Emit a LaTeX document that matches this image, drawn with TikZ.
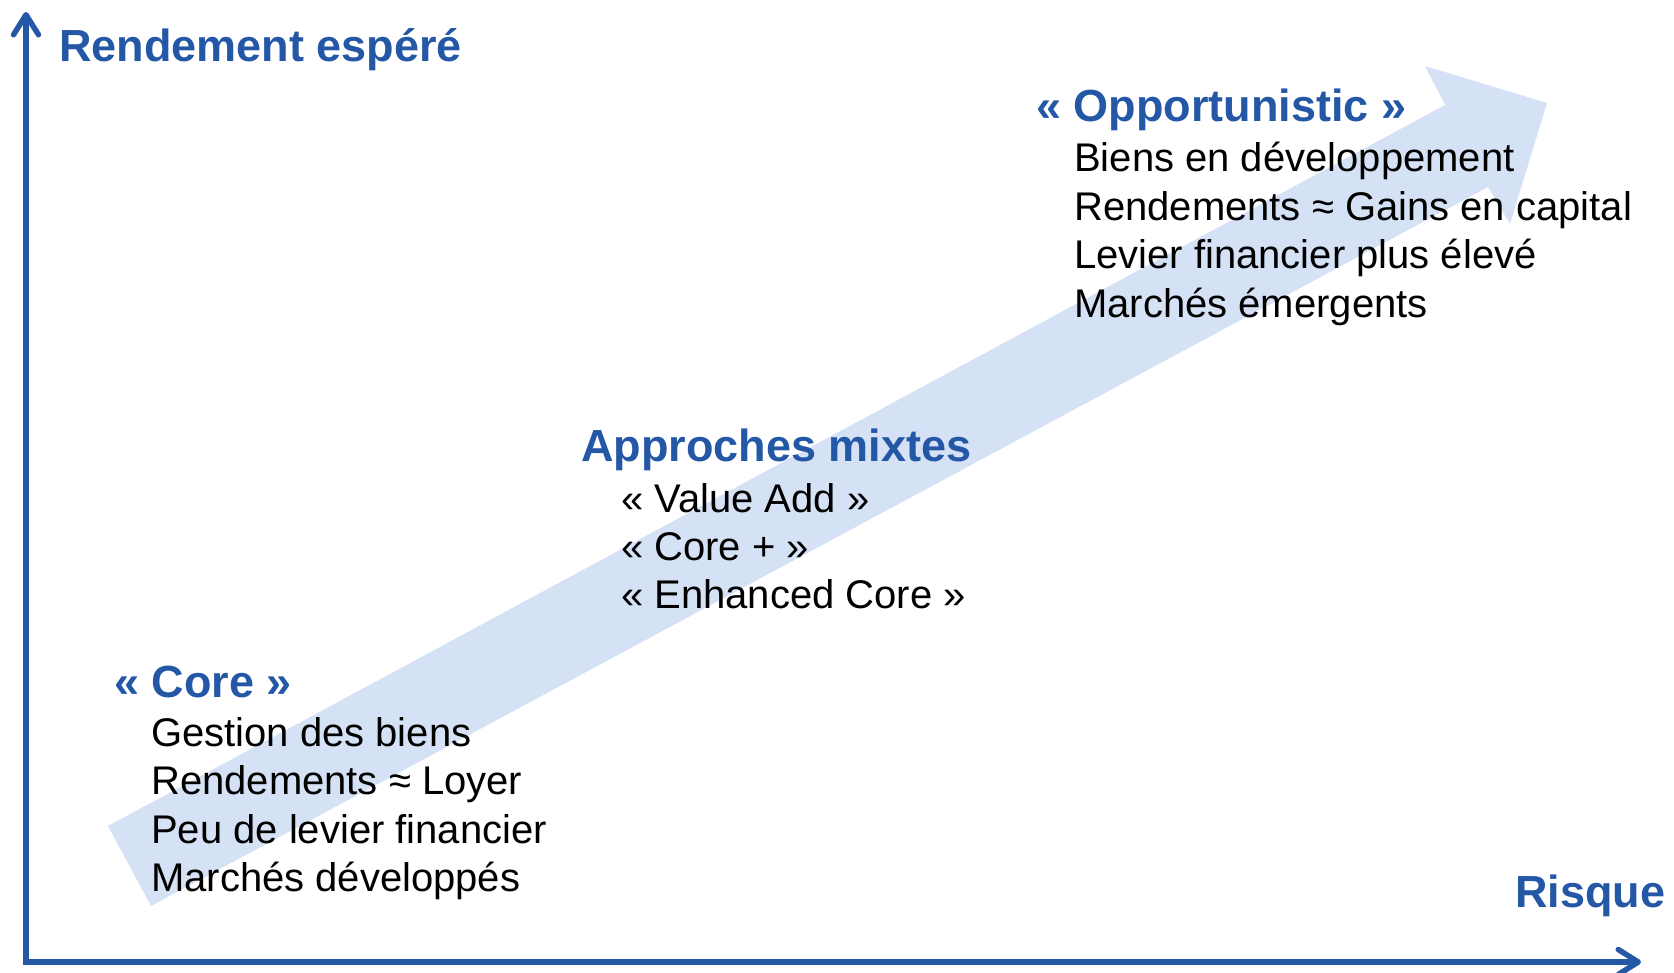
\documentclass[tikz,border=0pt]{standalone}
\usepackage{fontspec}
\setmainfont{Liberation Sans}
\usetikzlibrary{arrows.meta}
\definecolor{axisblue}{RGB}{36,88,166}
\definecolor{flowblue}{RGB}{213,225,244}
\tikzset{
  axis/.style={draw=axisblue, line width=5.5pt,
    {Straight Barb[length=20pt,width=25pt,round]}-{Straight Barb[length=20pt,width=25pt,round]}},
  flow/.style={fill=flowblue},
  heading/.style={anchor=base west, inner sep=0pt, text=axisblue,
    font=\bfseries\fontsize{45}{54}\selectfont},
  item/.style={anchor=base west, inner sep=0pt, text=black,
    font=\fontsize{40}{48}\selectfont}
}
\begin{document}
\begin{tikzpicture}[x=1pt,y=-1pt]
  \useasboundingbox (0,0) rectangle (1674,973);

  % broad rising arrow behind the labels
  \fill[flow] (108,826) -- (1445,105) -- (1425,66) -- (1547,103)
    -- (1510,224) -- (1488,187) -- (151,906) -- cycle;

  % axes
  \coordinate (origin) at (26,962);
  \coordinate (ytip) at (26,12);
  \coordinate (xtip) at (1641,962);
  \draw[axis] (ytip) -- (origin) -- (xtip);

  \node[heading] (ylabel) at (59,62) {Rendement espéré};
  \node[heading] (xlabel) at (1515,907) {Risque};

  % Core
  \node[heading] (core) at (114,697) {« Core »};
  \node[item] (core1) at (151,746) {Gestion des biens};
  \node[item] (core2) at (151,794.5) {Rendements ≈ Loyer};
  \node[item] (core3) at (151,843) {Peu de levier financier};
  \node[item] (core4) at (151,891.5) {Marchés développés};

  % Mixed approaches
  \node[heading] (mix) at (581,462) {Approches mixtes};
  \node[item] (mix1) at (621,512) {« Value Add »};
  \node[item] (mix2) at (621,560) {« Core + »};
  \node[item] (mix3) at (621,608) {« Enhanced Core »};

  % Opportunistic
  \node[heading] (opp) at (1036,122) {« Opportunistic »};
  \node[item] (opp1) at (1074,172) {Biens en développement};
  \node[item] (opp2) at (1074,220.5) {Rendements ≈ Gains en capital};
  \node[item] (opp3) at (1074,269) {Levier financier plus élevé};
  \node[item] (opp4) at (1074,317.5) {Marchés émergents};
\end{tikzpicture}
\end{document}
